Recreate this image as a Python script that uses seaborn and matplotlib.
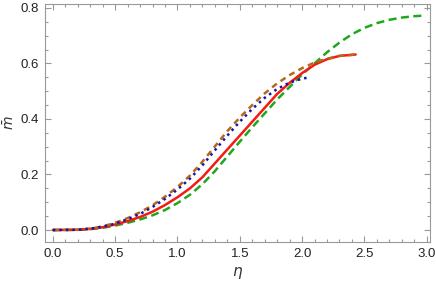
import matplotlib
matplotlib.use("Agg")
import matplotlib.pyplot as plt
from matplotlib.ticker import MultipleLocator
import seaborn as sns
import pandas as pd

# ---- data ----
eta_red = [0, 0.2, 0.3, 0.4, 0.5, 0.6, 0.7, 0.8, 0.9, 1.0, 1.1, 1.2, 1.3, 1.4, 1.5,
           1.6, 1.7, 1.8, 1.9, 2.0, 2.1, 2.2, 2.3, 2.43]
m_red = [0, 0.001, 0.004, 0.010, 0.020, 0.032, 0.047, 0.066, 0.090, 0.118, 0.150,
         0.190, 0.240, 0.290, 0.340, 0.390, 0.440, 0.490, 0.530, 0.565, 0.595,
         0.615, 0.627, 0.632]

eta_green = [0, 0.2, 0.3, 0.4, 0.5, 0.6, 0.7, 0.8, 0.9, 1.0, 1.1, 1.2, 1.3, 1.4, 1.5,
             1.6, 1.7, 1.8, 1.9, 2.0, 2.1, 2.2, 2.3, 2.4, 2.5, 2.6, 2.7, 2.8, 2.9, 2.97]
m_green = [0, 0.0005, 0.003, 0.008, 0.016, 0.026, 0.038, 0.053, 0.072, 0.097, 0.127,
           0.165, 0.212, 0.265, 0.318, 0.370, 0.420, 0.470, 0.515, 0.560, 0.600,
           0.640, 0.675, 0.705, 0.728, 0.745, 0.757, 0.765, 0.770, 0.772]

eta_blue = [0, 0.2, 0.3, 0.4, 0.5, 0.6, 0.7, 0.8, 0.9, 1.0, 1.1, 1.2, 1.3, 1.4, 1.5,
            1.6, 1.7, 1.8, 1.9, 2.0, 2.06]
m_blue = [0, 0.001, 0.005, 0.012, 0.023, 0.039, 0.058, 0.083, 0.112, 0.146, 0.185,
          0.233, 0.287, 0.340, 0.390, 0.436, 0.476, 0.508, 0.531, 0.545, 0.550]

eta_orange = [0, 0.2, 0.3, 0.4, 0.5, 0.6, 0.7, 0.8, 0.9, 1.0, 1.1, 1.2, 1.3, 1.4, 1.5,
              1.6, 1.7, 1.8, 1.9, 2.0, 2.1, 2.2, 2.3, 2.43]
m_orange = [0, 0.001, 0.005, 0.013, 0.026, 0.043, 0.064, 0.089, 0.120, 0.155, 0.196,
            0.246, 0.301, 0.356, 0.405, 0.450, 0.492, 0.528, 0.558, 0.583, 0.603,
            0.617, 0.627, 0.632]

x_ticks = [0.0, 0.5, 1.0, 1.5, 2.0, 2.5, 3.0]
y_ticks = [0.0, 0.2, 0.4, 0.6, 0.8]

series = [
    ("green", eta_green, m_green),
    ("red", eta_red, m_red),
    ("orange", eta_orange, m_orange),
    ("blue", eta_blue, m_blue),
]
df = pd.concat([pd.DataFrame({"eta": e, "m": m, "curve": n}) for n, e, m in series],
               ignore_index=True)

sns.set_style("ticks")
plt.rcParams["font.family"] = ["Liberation Sans", "DejaVu Sans"]
plt.rcParams["mathtext.fontset"] = "dejavusans"

fig = plt.figure(figsize=(4.36, 2.85), dpi=100)
ax = fig.add_axes([0.103, 0.151, 0.883, 0.835])

palette = {"green": "#1FA81F", "red": "#F51A14", "orange": "#B8661A", "blue": "#1414A8"}
dashes = {"green": (3.2, 1.8), "red": "", "orange": (2.4, 1.8), "blue": (1.0, 1.6)}

sns.lineplot(data=df, x="eta", y="m", hue="curve", style="curve",
             hue_order=["green", "red", "orange", "blue"],
             palette=palette, dashes=dashes, linewidth=1.8, legend=False,
             estimator=None, sort=False, ax=ax)

ax.set_xlim(-0.064, 3.026)
ax.set_ylim(-0.043, 0.814)
ax.set_xticks(x_ticks)
ax.set_yticks(y_ticks)
ax.set_xticklabels([f"{v:.1f}" for v in x_ticks])
ax.set_yticklabels([f"{v:.1f}" for v in y_ticks])
ax.xaxis.set_minor_locator(MultipleLocator(0.1))
ax.yaxis.set_minor_locator(MultipleLocator(0.05))
ax.tick_params(which="both", direction="in", top=True, right=True,
               color="#999999", width=0.8, labelsize=9.5, labelcolor="#222222")
ax.tick_params(which="major", length=4, pad=4)
ax.tick_params(which="minor", length=2.2)
for s in ax.spines.values():
    s.set_color("#999999")
    s.set_linewidth(0.8)

ax.set_xlabel(r"$\eta$", fontsize=11, color="#333333", labelpad=4)
ax.set_ylabel(r"$\bar{m}$", fontsize=10, color="#333333", labelpad=3)

fig.savefig("out.png", dpi=100)
